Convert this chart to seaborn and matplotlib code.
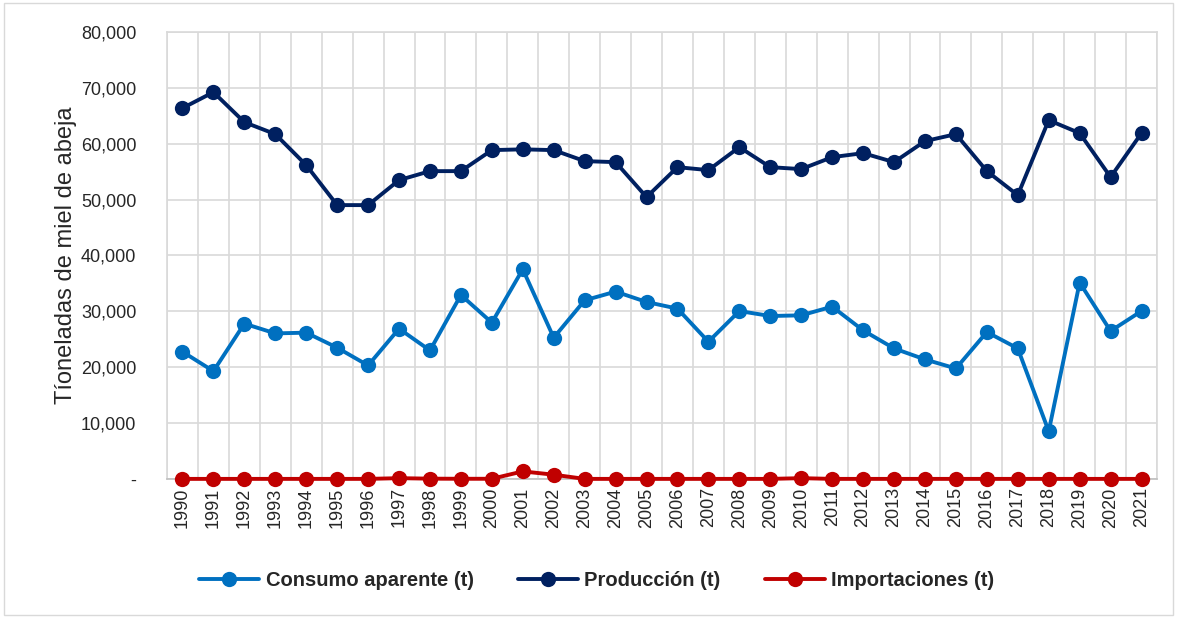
import numpy as np
import pandas as pd
import seaborn as sns
import matplotlib.pyplot as plt
from matplotlib.ticker import FuncFormatter, MultipleLocator
from matplotlib.patches import Rectangle

years = list(range(1990, 2022))
consumo = [22780, 19300, 27800, 26060, 26190, 23500, 20320, 26900, 23010, 32930,
           27980, 37540, 25290, 31980, 33540, 31680, 30490, 24570, 30060, 29170,
           29290, 30850, 26600, 23370, 21400, 19780, 26300, 23370, 8540, 35160,
           26480, 30060]
produccion = [66370, 69230, 63860, 61720, 56170, 49020, 49020, 53490, 55100, 55100,
              58860, 59000, 58860, 56890, 56710, 50450, 55810, 55280, 59390, 55810,
              55460, 57600, 58320, 56710, 60470, 61720, 55100, 50800, 64220, 61900,
              54030, 61900]
importaciones = [20, 20, 20, 20, 20, 20, 20, 150, 60, 40,
                 40, 1360, 770, 20, 20, 20, 20, 20, 20, 20,
                 150, 20, 20, 20, 20, 20, 20, 20, 20, 20,
                 20, 20]
series = ["Consumo aparente (t)", "Producción (t)", "Importaciones (t)"]
colors = ["#0070C0", "#002060", "#C00000"]

df = pd.DataFrame({"year": years * 3,
                   "value": consumo + produccion + importaciones,
                   "serie": [series[0]] * 32 + [series[1]] * 32 + [series[2]] * 32})

sns.set_style("white")
plt.rcParams['font.family'] = ['Liberation Sans', 'DejaVu Sans']

fig = plt.figure(figsize=(11.77, 6.18), dpi=100)
ax = fig.add_axes([167 / 1177, 139 / 618, 990 / 1177, 447 / 618])

sns.lineplot(data=df, x="year", y="value", hue="serie", palette=colors,
             marker="o", markersize=11, markeredgewidth=0, linewidth=2.8,
             ax=ax, legend=False, zorder=3, clip_on=False)

ax.set_xlim(1989.5, 2021.5)
ax.set_ylim(0, 80000)
ax.set_xticks(years)
ax.set_xticklabels([str(y) for y in years], rotation=90, fontsize=13)
ax.xaxis.set_minor_locator(MultipleLocator(1, offset=0.5))
ax.yaxis.set_major_locator(MultipleLocator(10000))
ax.yaxis.set_major_formatter(FuncFormatter(lambda v, p: "-" if v == 0 else f"{int(v):,}"))
ax.tick_params(axis='y', labelsize=13, length=0, pad=22)
ax.tick_params(axis='x', which='both', length=0, pad=6)
ax.grid(True, which='minor', axis='x', color='#D9D9D9', linewidth=1.2)
ax.grid(True, which='major', axis='y', color='#D9D9D9', linewidth=1.2)
ax.set_axisbelow(True)
for s in ax.spines.values():
    s.set_color('#D9D9D9')
    s.set_linewidth(1.2)
ax.spines['bottom'].set_color('#BFBFBF')
ax.set_xlabel("")
ax.set_ylabel("Tíoneladas de miel de abeja", fontsize=17, labelpad=3)

handles = [plt.Line2D([], [], color=c, marker='o', markersize=11, markeredgewidth=0,
                      linewidth=2.8) for c in colors]
fig.legend(handles, series, loc='center', bbox_to_anchor=(0.507, 0.061), ncol=3,
           frameon=False, prop={'weight': 'bold', 'size': 14.5},
           handlelength=3.0, columnspacing=2.2, handletextpad=0.3)

fig.patches.append(Rectangle((4 / 1177, 3 / 618), 1 - 8 / 1177, 1 - 6 / 618,
                             transform=fig.transFigure, fill=False,
                             edgecolor='#D9D9D9', linewidth=1))

fig.savefig("out.png", dpi=100, facecolor='white')
